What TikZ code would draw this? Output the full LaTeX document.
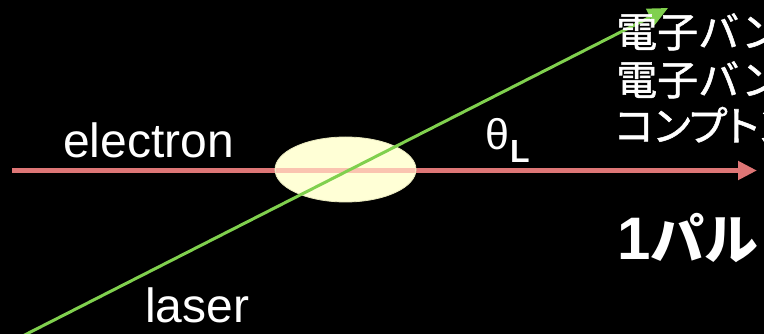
\documentclass[tikz,border=0pt]{standalone}
\usepackage{fontspec}
\setmainfont{Liberation Sans}
\newfontfamily\jp{Noto Sans CJK JP}
\newfontfamily\jpm[FakeBold=1.3]{Noto Sans CJK JP}
\newfontfamily\jpp[FakeBold=1.3,RawFeature=+palt]{Noto Sans CJK JP}
\usetikzlibrary{arrows.meta,shapes.geometric}
\definecolor{ered}{RGB}{222,118,118}
\definecolor{eredin}{RGB}{250,196,176}
\definecolor{lgreen}{RGB}{128,208,78}
\definecolor{bunchfill}{RGB}{255,255,214}
\definecolor{bunchedge}{RGB}{232,232,190}
\tikzset{
  lbl/.style={text=white,inner sep=0pt,anchor=base west,font=\fontsize{48}{48}\selectfont},
  jpline/.style={text=white,inner sep=0pt,anchor=base west,font=\jpm\fontsize{41}{41}\selectfont},
  beam/.style={ered,line width=5pt},
  lasbeam/.style={lgreen,line width=3pt},
}
\begin{document}
\begin{tikzpicture}[x=1pt,y=-1pt]
\useasboundingbox (0,0) rectangle (764,334);
\clip (0,0) rectangle (764,334);
\fill[black] (0,0) rectangle (764,334);
% electron beam
\coordinate (estart) at (12,170.5);
\coordinate (eend) at (757,170.5);
\draw[beam,-{Triangle[length=19pt,width=18pt]}] (estart) -- (eend);
% bunch
\node[ellipse,fill=bunchfill,draw=bunchedge,line width=0.8pt,minimum width=141pt,minimum height=65pt,inner sep=0pt] (bunch) at (345.5,169.5) {};
\begin{scope}
  \clip (345.5,169.5) ellipse [x radius=70pt,y radius=32pt];
  \draw[eredin,line width=5pt] (estart) -- (eend);
\end{scope}
% laser beam
\coordinate (lstart) at (5,345);
\coordinate (ltip) at (668,8);
\draw[lasbeam,-{Triangle[length=20pt,width=18pt]}] (lstart) -- (ltip);
% labels
\node[lbl] (electron) at (63,158) {electron};
\node[lbl] (laser) at (145,323) {laser};
\node[text=white,inner sep=0pt,anchor=base west,font=\fontsize{43}{43}\selectfont] (theta) at (485,150) {θ\hspace{1pt}\raisebox{-13pt}{\bfseries\fontsize{32}{32}\selectfont L}};
% Japanese text (cut at right edge)
\node[jpline] (t1) at (616,47) {電子バン};
\node[jpline] (t2) at (616,95) {電子バン};
\node[jpline,font=\jpp\fontsize{41}{41}\selectfont] (t3) at (615,141) {コンプトン};
\node[text=white,inner sep=0pt,anchor=base west] (t4) at (617,260) {{\bfseries\fontsize{60}{60}\selectfont 1}{\jp\bfseries\fontsize{54}{54}\selectfont パル}};
\end{tikzpicture}
\end{document}
